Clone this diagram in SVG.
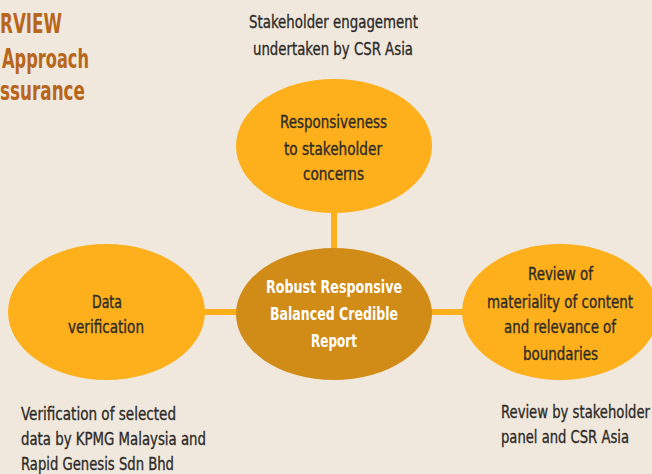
<svg xmlns="http://www.w3.org/2000/svg" width="652" height="474" viewBox="0 0 652 474">
<style>
.t{font-family:"DejaVu Sans Condensed","DejaVu Sans","Liberation Sans",sans-serif;font-size:18px;fill:#2e2b28;stroke:#2e2b28;stroke-width:0.35}
.c{text-anchor:middle}
.w{fill:#ffffff;stroke:none;font-weight:bold}
.h{font-family:"DejaVu Sans Condensed","DejaVu Sans","Liberation Sans",sans-serif;font-size:27px;font-weight:bold;fill:#b8661b}
.n{fill:#fdb01b}
.m{fill:#d18b17}
.k{stroke:#fdb01b;stroke-width:6;fill:none}
</style>
<rect width="652" height="474" fill="#f0e8dd"/>
<g id="title">
<text class="h" x="0" y="33" textLength="62" lengthAdjust="spacingAndGlyphs">RVIEW</text>
<text class="h" x="2" y="68" textLength="87" lengthAdjust="spacingAndGlyphs">Approach</text>
<text class="h" x="0" y="100" textLength="85" lengthAdjust="spacingAndGlyphs">ssurance</text>
</g>
<g id="connectors">
<line class="k" x1="334" y1="205" x2="334" y2="255"/>
<line class="k" x1="198" y1="312" x2="242" y2="312"/>
<line class="k" x1="426" y1="312" x2="470" y2="312"/>
</g>
<g id="top-node">
<ellipse class="n" cx="334" cy="146" rx="98" ry="67"/>
<text class="t c" x="333.5" y="128" textLength="107" lengthAdjust="spacingAndGlyphs">Responsiveness</text>
<text class="t c" x="333" y="155" textLength="98" lengthAdjust="spacingAndGlyphs">to stakeholder</text>
<text class="t c" x="333.5" y="180" textLength="61" lengthAdjust="spacingAndGlyphs">concerns</text>
</g>
<g id="center-node">
<ellipse class="m" cx="334" cy="314" rx="98" ry="66"/>
<text class="t c w" x="334" y="293" textLength="136" lengthAdjust="spacingAndGlyphs">Robust Responsive</text>
<text class="t c w" x="334" y="320" textLength="128" lengthAdjust="spacingAndGlyphs">Balanced Credible</text>
<text class="t c w" x="334" y="347" textLength="46" lengthAdjust="spacingAndGlyphs">Report</text>
</g>
<g id="left-node">
<ellipse class="n" cx="106.5" cy="312" rx="98.5" ry="68"/>
<text class="t c" x="107" y="308" textLength="30" lengthAdjust="spacingAndGlyphs">Data</text>
<text class="t c" x="106" y="333" textLength="76" lengthAdjust="spacingAndGlyphs">verification</text>
</g>
<g id="right-node">
<ellipse class="n" cx="560" cy="312" rx="98" ry="68"/>
<text class="t c" x="560.5" y="280" textLength="65" lengthAdjust="spacingAndGlyphs">Review of</text>
<text class="t c" x="560" y="308" textLength="146" lengthAdjust="spacingAndGlyphs">materiality of content</text>
<text class="t c" x="560" y="333" textLength="112" lengthAdjust="spacingAndGlyphs">and relevance of</text>
<text class="t c" x="560.5" y="360" textLength="75" lengthAdjust="spacingAndGlyphs">boundaries</text>
</g>
<g id="labels">
<text class="t c" x="333.5" y="28" textLength="169" lengthAdjust="spacingAndGlyphs">Stakeholder engagement</text>
<text class="t c" x="333" y="55" textLength="160" lengthAdjust="spacingAndGlyphs">undertaken by CSR Asia</text>
<text class="t" x="21" y="420" textLength="155" lengthAdjust="spacingAndGlyphs">Verification of selected</text>
<text class="t" x="21" y="445" textLength="185" lengthAdjust="spacingAndGlyphs">data by KPMG Malaysia and</text>
<text class="t" x="21" y="470" textLength="153" lengthAdjust="spacingAndGlyphs">Rapid Genesis Sdn Bhd</text>
<text class="t" x="501" y="418" textLength="149" lengthAdjust="spacingAndGlyphs">Review by stakeholder</text>
<text class="t" x="501" y="443" textLength="128" lengthAdjust="spacingAndGlyphs">panel and CSR Asia</text>
</g>
</svg>
